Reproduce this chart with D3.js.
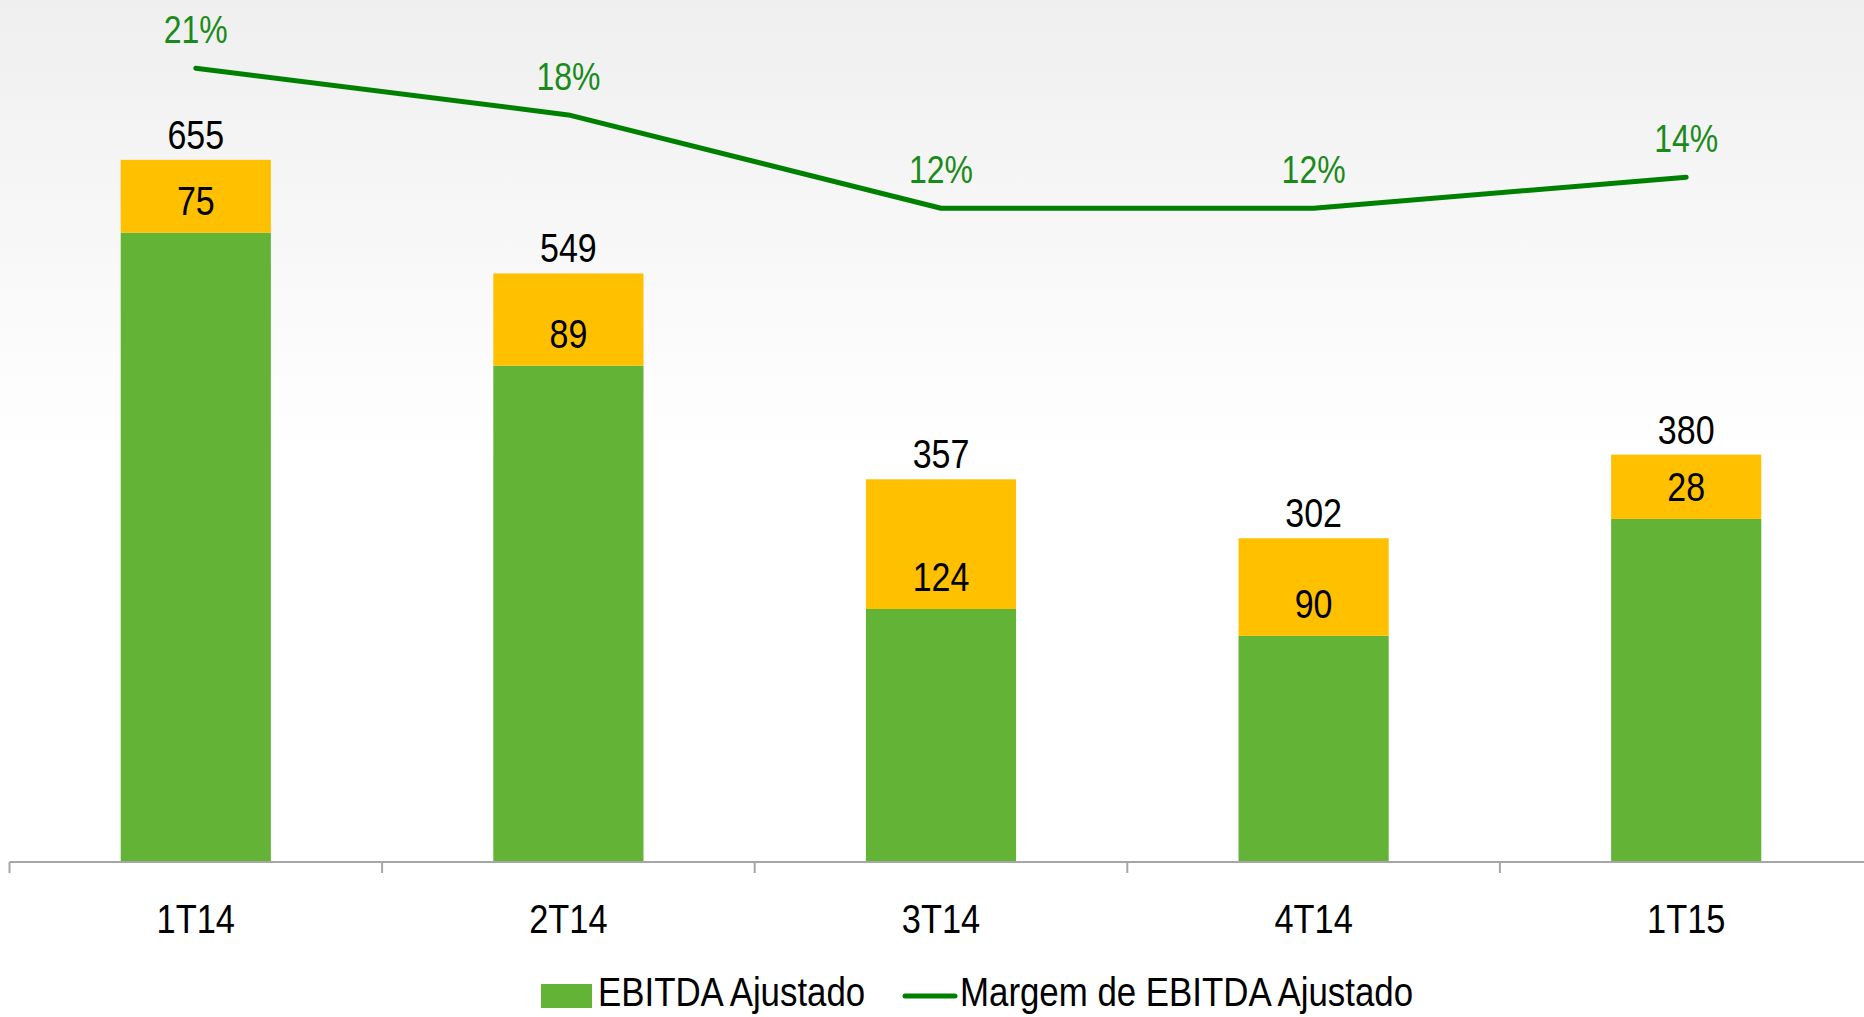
<!DOCTYPE html>
<html>
<head>
<meta charset="utf-8">
<script src="https://cdn.jsdelivr.net/npm/d3@7"></script>
<style>
    body { margin: 0; background: #fff; }
    svg { display: block; }
</style>
</head>
<body>
<div id="chart"></div>
<script>
const categories = ["1T14", "2T14", "3T14", "4T14", "1T15"];
const totals = [655, 549, 357, 302, 380];
const ebitda = [587, 463, 236, 211, 320];
const adjustLabels = [75, 89, 124, 90, 28];
const margins = [21, 18, 12, 12, 14];

const width = 1864;
const height = 1017;
const font = "'Liberation Sans', Arial, sans-serif";

const svg = d3.select("#chart")
    .append("svg")
    .attr("width", width)
    .attr("height", height);

// soft grey wash at the top
const grad = svg.append("defs").append("linearGradient")
    .attr("id", "bg").attr("x1", 0).attr("y1", 0).attr("x2", 0).attr("y2", 1);
grad.append("stop").attr("offset", "0%").attr("stop-color", "#efefef");
grad.append("stop").attr("offset", "45%").attr("stop-color", "#ffffff");
svg.append("rect").attr("width", width).attr("height", height).attr("fill", "url(#bg)");

const x = d3.scaleBand()
    .domain(categories)
    .range([9.5, 1872.5]);

const barW = x.bandwidth() * 0.403;
const cx = d => x(d) + x.bandwidth() / 2;

const y = d3.scaleLinear()
    .domain([0, 700])
    .range([862, 862 - 700 * 1.072]);

const y2 = d3.scaleLinear()
    .domain([0, 25])
    .range([395, 6]);

const rows = categories.map((c, i) => ({
    cat: c, total: totals[i], base: ebitda[i], adj: adjustLabels[i], margin: margins[i]
}));

// narrow text: squeeze the glyphs horizontally
function label(sel, fx, fy, size, sx, anchor) {
    return sel
        .attr("transform", (d, i) => `translate(${fx(d, i)},${fy(d, i)}) scale(${sx},1)`)
        .attr("text-anchor", anchor || "middle")
        .attr("dominant-baseline", "central")
        .style("font-family", font)
        .style("font-size", size + "px");
}

// green part
svg.selectAll("rect.base")
    .data(rows)
    .enter()
    .append("rect")
    .attr("class", "base")
    .attr("x", d => cx(d.cat) - barW / 2)
    .attr("y", d => y(d.base))
    .attr("width", barW)
    .attr("height", d => y(0) - y(d.base))
    .attr("fill", "#62b336");

// yellow part
svg.selectAll("rect.adj")
    .data(rows)
    .enter()
    .append("rect")
    .attr("class", "adj")
    .attr("x", d => cx(d.cat) - barW / 2)
    .attr("y", d => y(d.total))
    .attr("width", barW)
    .attr("height", d => y(d.base) - y(d.total))
    .attr("fill", "#ffc000");

// axis
const axis = svg.append("g").attr("transform", "translate(0,862)");
axis.append("line")
    .attr("x1", 9.5).attr("x2", width)
    .attr("stroke", "#a6a6a6").attr("stroke-width", 2);
axis.selectAll("line.tick")
    .data(categories)
    .enter()
    .append("line")
    .attr("class", "tick")
    .attr("x1", d => x(d)).attr("x2", d => x(d))
    .attr("y1", 0).attr("y2", 11)
    .attr("stroke", "#a6a6a6").attr("stroke-width", 2);
label(axis.selectAll("text")
    .data(categories)
    .enter()
    .append("text"), d => cx(d), () => 57, 40, 0.86)
    .attr("fill", "#000")
    .text(d => d);

// labels
label(svg.selectAll("text.total")
    .data(rows)
    .enter()
    .append("text")
    .attr("class", "total"), d => cx(d.cat), d => y(d.total) - 25, 40, 0.85)
    .text(d => d.total);

label(svg.selectAll("text.adj")
    .data(rows)
    .enter()
    .append("text")
    .attr("class", "adj"), d => cx(d.cat), d => y(d.base) - 32, 40, 0.85)
    .text(d => d.adj);

// margin line
const line = d3.line()
    .x(d => cx(d.cat))
    .y(d => y2(d.margin));

svg.append("path")
    .datum(rows)
    .attr("d", line)
    .attr("fill", "none")
    .attr("stroke", "#008000")
    .attr("stroke-width", 5)
    .attr("stroke-linecap", "round")
    .attr("stroke-linejoin", "round");

label(svg.selectAll("text.margin")
    .data(rows)
    .enter()
    .append("text")
    .attr("class", "margin"), d => cx(d.cat), d => y2(d.margin) - 38, 39, 0.82)
    .attr("fill", "#1a8a1a")
    .text(d => d.margin + "%");

// legend
const legend = svg.append("g");
legend.append("rect")
    .attr("x", 541).attr("y", 984).attr("width", 51).attr("height", 24)
    .attr("fill", "#62b336");
label(legend.append("text"), () => 598, () => 992, 41, 0.85, "start")
    .text("EBITDA Ajustado");
legend.append("line")
    .attr("x1", 905).attr("x2", 955).attr("y1", 996).attr("y2", 996)
    .attr("stroke", "#008000").attr("stroke-width", 5)
    .attr("stroke-linecap", "round");
label(legend.append("text"), () => 960, () => 992, 41, 0.85, "start")
    .text("Margem de EBITDA Ajustado");
</script>
</body>
</html>
